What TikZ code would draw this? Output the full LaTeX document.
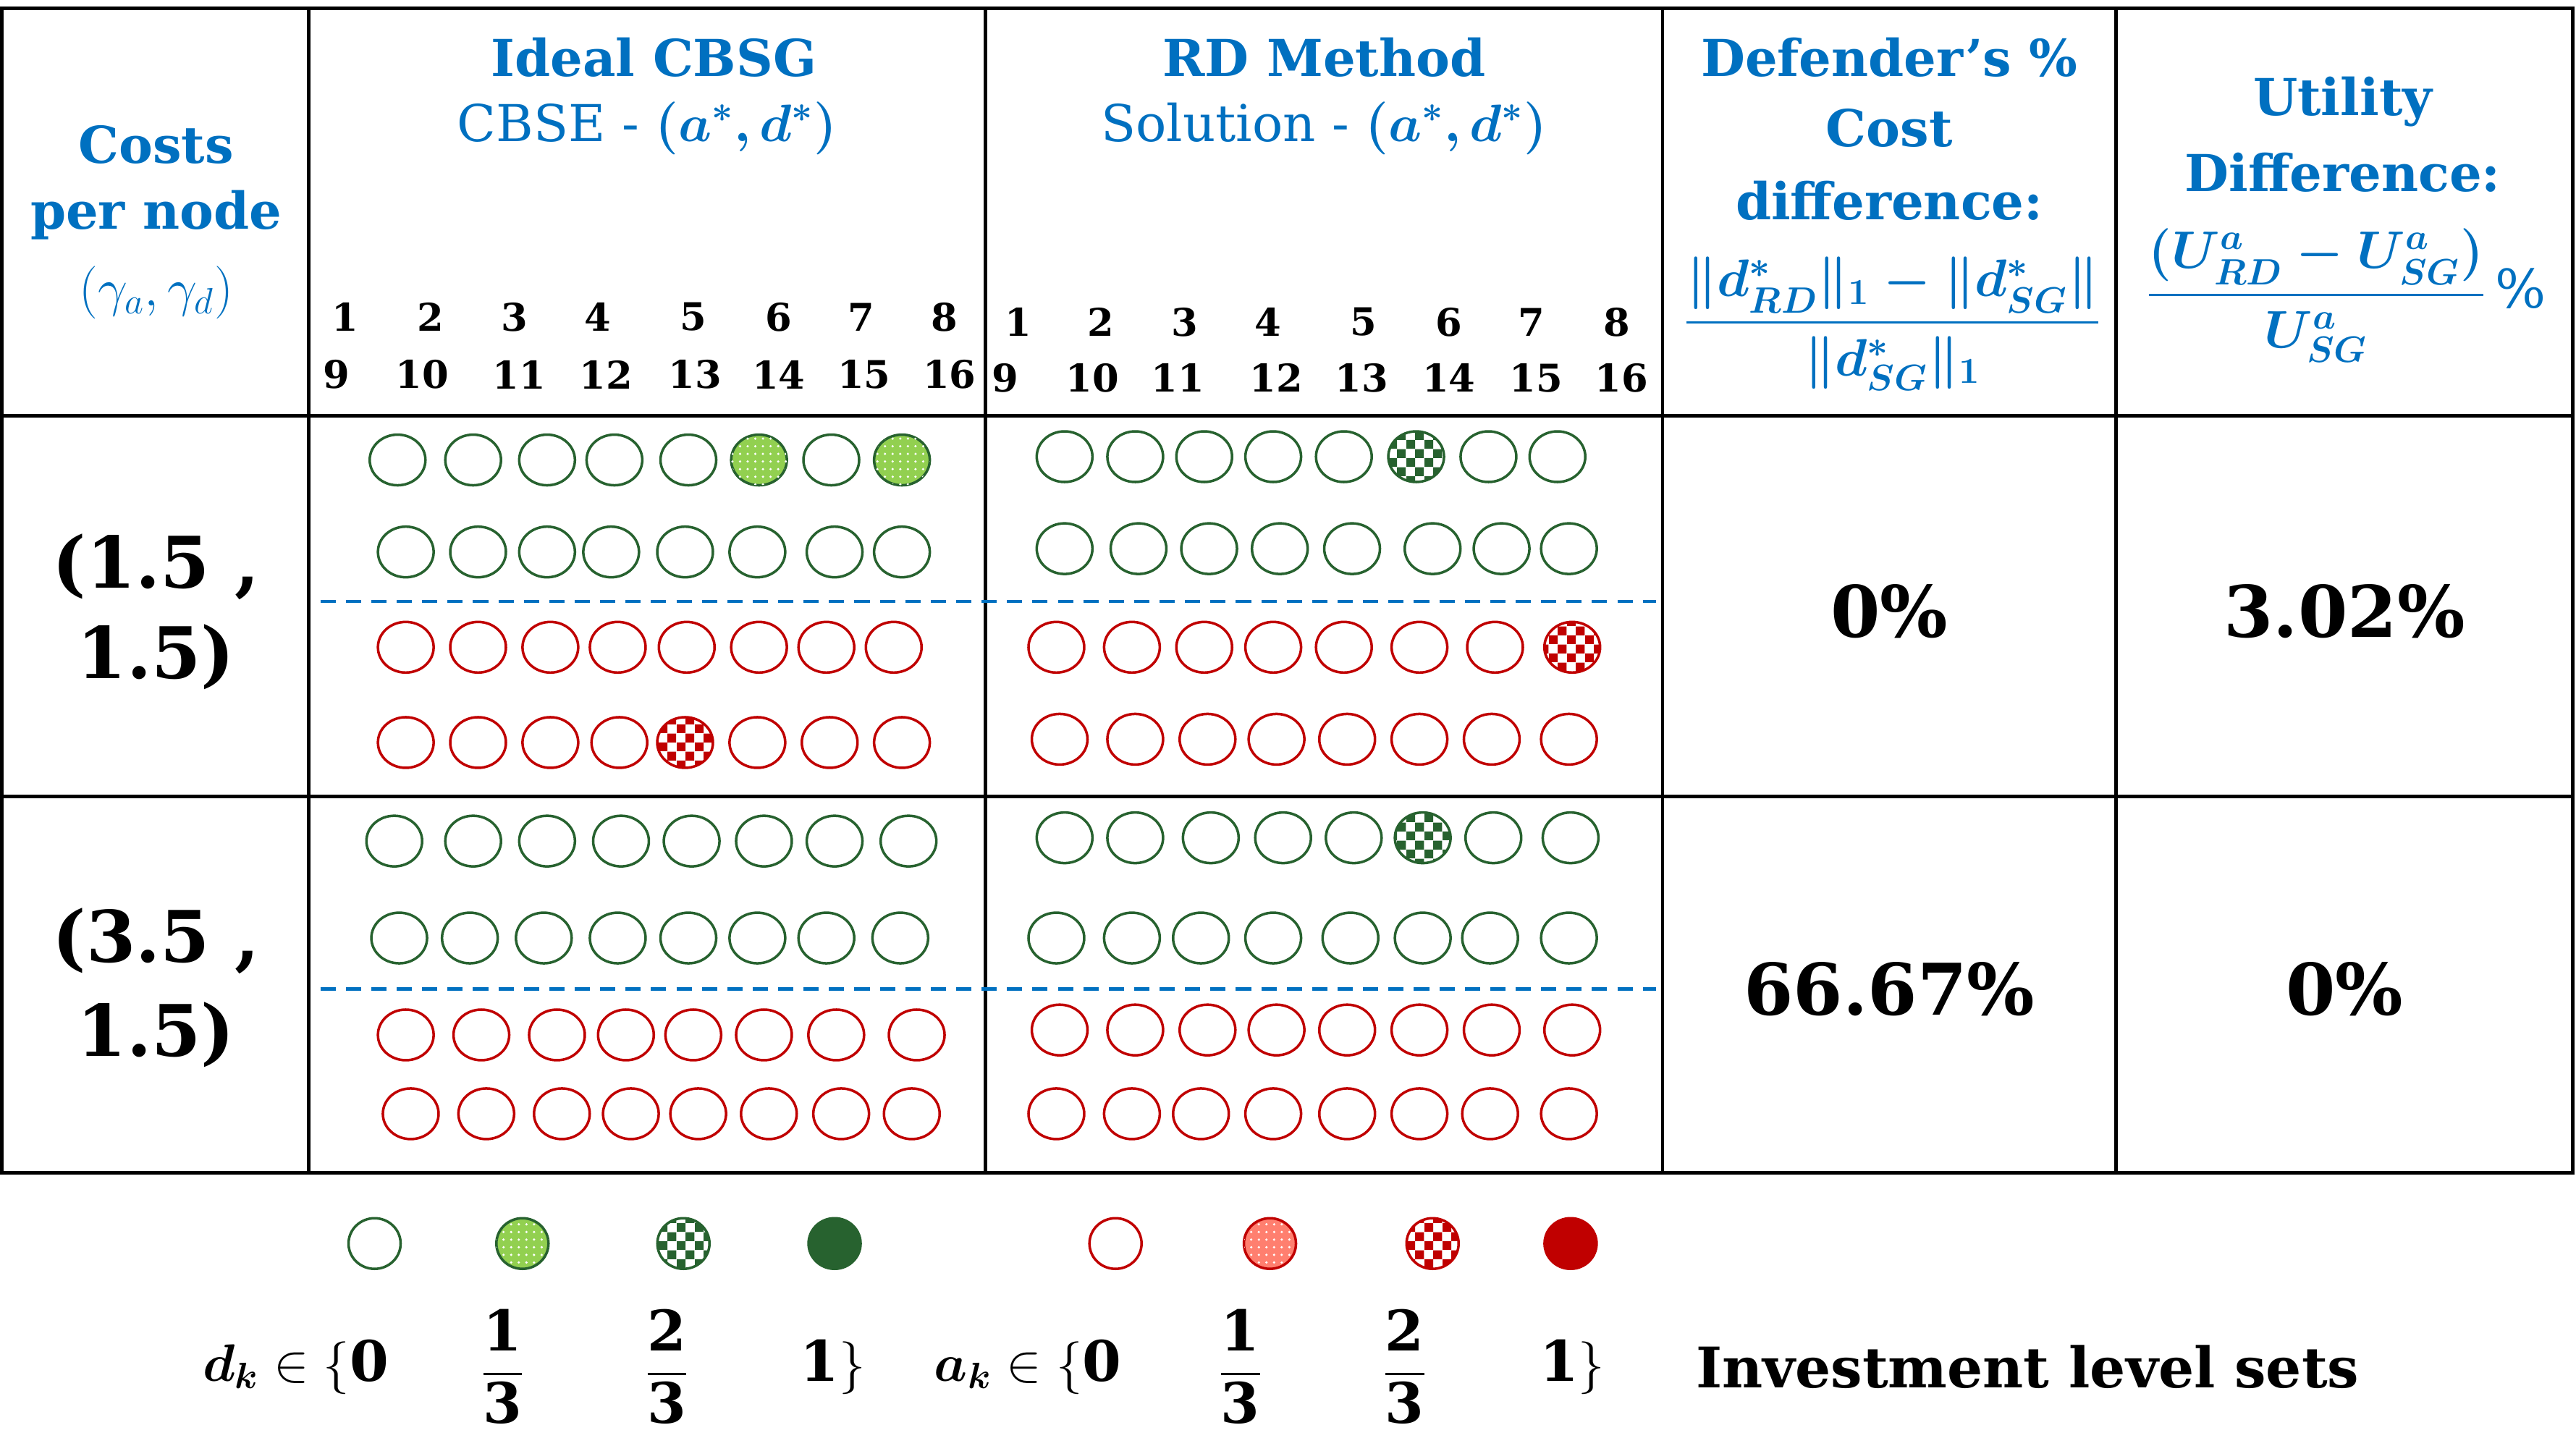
\documentclass[tikz,border=0pt]{standalone}
\usepackage{amsmath,bm}
\usepackage{fontspec}
\setmainfont{DejaVu Serif}
\usetikzlibrary{shapes.geometric,patterns,patterns.meta}
\definecolor{myblue}{HTML}{0070C0}
\definecolor{dgreen}{HTML}{27622F}
\definecolor{lgreen}{HTML}{92D050}
\definecolor{dred}{HTML}{C00000}
\definecolor{lred}{HTML}{FF7F6F}
\tikzdeclarepattern{name=bigcheck,type=uncolored,bottom left={(0,0)},top right={(7pt,7pt)},tile size={(7pt,7pt)},
  code={\fill (0,0) rectangle (3.5pt,3.5pt); \fill (3.5pt,3.5pt) rectangle (7pt,7pt);}}
\tikzset{
  ell/.style={ellipse,minimum width=0.77cm,minimum height=0.70cm,inner sep=0pt,line width=1pt,fill=white},
  gE/.style={ell,draw=dgreen},
  gD/.style={ell,draw=dgreen,fill=lgreen,postaction={pattern=dots,pattern color=white}},
  gC/.style={ell,draw=dgreen,postaction={pattern=bigcheck,pattern color=dgreen}},
  gF/.style={ell,draw=dgreen,fill=dgreen},
  rE/.style={ell,draw=dred},
  rD/.style={ell,draw=dred,fill=lred,postaction={pattern=dots,pattern color=white}},
  rC/.style={ell,draw=dred,postaction={pattern=bigcheck,pattern color=dred}},
  rF/.style={ell,draw=dred,fill=dred},
  grid/.style={line width=1.4pt},
  sep/.style={myblue,dashed,line width=1.2pt,dash pattern=on 6pt off 4pt},
  hd/.style={myblue,font=\fontsize{20}{24}\bfseries,inner sep=0pt,align=center},
  hr/.style={myblue,font=\fontsize{20}{24}\selectfont,inner sep=0pt},
  num/.style={font=\fontsize{15}{18}\bfseries,inner sep=0pt},
  big/.style={font=\fontsize{28}{32}\bfseries,inner sep=0pt},
  leg/.style={font=\fontsize{22}{26}\selectfont,inner sep=0pt},
}
\begin{document}
\begin{tikzpicture}[x=0.0227cm,y=-0.0227cm]
\useasboundingbox (0,0) rectangle (1568,880);
% grid
\draw[grid] (1,5) rectangle (1566,714);
\foreach \x in {188,600,1012,1288} \draw[grid] (\x,5) -- (\x,714);
\draw[grid] (1,253) -- (1566,253);
\draw[grid] (1,485) -- (1566,485);
% header
\node[hd] (c1) at (95,88) {Costs};
\node[hd] (c2) at (95,131) {per node};
\node[hd] (c3) at (95,178) {\fontsize{22}{26}\selectfont$(\gamma_a,\gamma_d)$};
\node[hd] (h1) at (398,35) {Ideal CBSG};
\node[hr] (h2) at (394,78) {CBSE - $\bm{(a^*,d^*)}$};
\node[hd] (h3) at (806,35) {RD Method};
\node[hr] (h4) at (806,78) {Solution - $\bm{(a^*,d^*)}$};
\node[hd] (h5) at (1150,35) {Defender’s \%};
\node[hd] (h6) at (1150,78) {Cost};
\node[hd] (h7) at (1150,122) {difference:};
\node[myblue,inner sep=0pt] (h8) at (1152,197) {\fontsize{20.5}{24}\selectfont$\displaystyle\bm{\frac{\|d^*_{RD}\|_1-\|d^*_{SG}\|}{\|d^*_{SG}\|_1}}$};
\node[hd] (u1) at (1426,62) {Utility};
\node[hd] (u2) at (1426,105) {Difference:};
\node[myblue,inner sep=0pt] (u3) at (1428,180) {\fontsize{21}{25}\selectfont$\displaystyle\bm{\frac{(U^a_{RD}-U^a_{SG})}{U^a_{SG}}}\,\%$};
\foreach \x [count=\i] in {210,262,313,364,422,474,524,575} \node[num] (ti\i) at (\x,193) {\i};
\foreach \x [count=\i from 9] in {205,257,316,369,423,474,526,578} \node[num] (ti\i) at (\x,228) {\i};
\foreach \x [count=\i] in {620,670,721,772,830,882,932,984} \node[num] (tr\i) at (\x,196) {\i};
\foreach \x [count=\i from 9] in {612,665,717,777,829,882,935,987} \node[num] (tr\i) at (\x,230) {\i};
% rows
\node[big] (r1a) at (95,345) {(1.5 ,};
\node[big] (r1b) at (95,400) {1.5)};
\node[big] (r2a) at (95,573) {(3.5 ,};
\node[big] (r2b) at (95,630) {1.5)};
\node[big] (v1) at (1150,372) {0\%};
\node[big] (v2) at (1427,372) {3.02\%};
\node[big] (v3) at (1150,602) {66.67\%};
\node[big] (v4) at (1427,602) {0\%};
\draw[sep] (195,366) -- (1008,366);
\draw[sep] (195,602) -- (1008,602);
% ideal ellipses
\foreach \x/\s [count=\i] in {242/gE,288/gE,333/gE,374/gE,419/gE,462/gD,506/gE,549/gD} \node[\s] (aa\i) at (\x,280) {};
\foreach \x/\s [count=\i] in {247/gE,291/gE,333/gE,372/gE,417/gE,461/gE,508/gE,549/gE} \node[\s] (ab\i) at (\x,336) {};
\foreach \x/\s [count=\i] in {247/rE,291/rE,335/rE,376/rE,418/rE,462/rE,503/rE,544/rE} \node[\s] (ac\i) at (\x,394) {};
\foreach \x/\s [count=\i] in {247/rE,291/rE,335/rE,377/rE,417/rC,461/rE,505/rE,549/rE} \node[\s] (ad\i) at (\x,452) {};
\foreach \x/\s [count=\i] in {648/gE,691/gE,733/gE,775/gE,818/gE,862/gC,906/gE,948/gE} \node[\s] (ba\i) at (\x,278) {};
\foreach \x/\s [count=\i] in {648/gE,693/gE,736/gE,779/gE,823/gE,872/gE,914/gE,955/gE} \node[\s] (bb\i) at (\x,334) {};
\foreach \x/\s [count=\i] in {643/rE,689/rE,733/rE,775/rE,818/rE,864/rE,910/rE,957/rC} \node[\s] (bc\i) at (\x,394) {};
\foreach \x/\s [count=\i] in {645/rE,691/rE,735/rE,777/rE,820/rE,864/rE,908/rE,955/rE} \node[\s] (bd\i) at (\x,450) {};
\foreach \x/\s [count=\i] in {240/gE,288/gE,333/gE,378/gE,421/gE,465/gE,508/gE,553/gE} \node[\s] (ca\i) at (\x,512) {};
\foreach \x/\s [count=\i] in {243/gE,286/gE,331/gE,376/gE,419/gE,461/gE,503/gE,548/gE} \node[\s] (cb\i) at (\x,571) {};
\foreach \x/\s [count=\i] in {247/rE,293/rE,339/rE,381/rE,422/rE,465/rE,509/rE,558/rE} \node[\s] (cc\i) at (\x,630) {};
\foreach \x/\s [count=\i] in {250/rE,296/rE,342/rE,384/rE,425/rE,468/rE,512/rE,555/rE} \node[\s] (cd\i) at (\x,678) {};
\foreach \x/\s [count=\i] in {648/gE,691/gE,737/gE,781/gE,824/gE,866/gC,909/gE,956/gE} \node[\s] (da\i) at (\x,510) {};
\foreach \x/\s [count=\i] in {643/gE,689/gE,731/gE,775/gE,822/gE,866/gE,907/gE,955/gE} \node[\s] (db\i) at (\x,571) {};
\foreach \x/\s [count=\i] in {645/rE,691/rE,735/rE,777/rE,820/rE,864/rE,908/rE,957/rE} \node[\s] (dc\i) at (\x,627) {};
\foreach \x/\s [count=\i] in {643/rE,689/rE,731/rE,775/rE,820/rE,864/rE,907/rE,955/rE} \node[\s] (dd\i) at (\x,678) {};
% legend
\foreach \x/\s [count=\i] in {228/gE,318/gD,416/gC,508/gF,679/rE,773/rD,872/rC,956/rF} \node[\s,minimum width=0.72cm,minimum height=0.70cm] (lg\i) at (\x,757) {};
\node[leg,anchor=east] (l1) at (237,832) {$\bm{d_k}\in\{\mathbf{0}$};
\node[leg] (l2) at (306,832) {$\displaystyle\mathbf{\frac{1}{3}}$};
\node[leg] (l3) at (406,832) {$\displaystyle\mathbf{\frac{2}{3}}$};
\node[leg] (l4) at (507,832) {$\mathbf{1}\}$};
\node[leg,anchor=east] (l5) at (683,832) {$\bm{a_k}\in\{\mathbf{0}$};
\node[leg] (l6) at (755,832) {$\displaystyle\mathbf{\frac{1}{3}}$};
\node[leg] (l7) at (855,832) {$\displaystyle\mathbf{\frac{2}{3}}$};
\node[leg] (l8) at (957,832) {$\mathbf{1}\}$};
\node[font=\fontsize{22}{26}\bfseries,inner sep=0pt,anchor=west] (l9) at (1032,832) {Investment level sets};
\end{tikzpicture}
\end{document}
